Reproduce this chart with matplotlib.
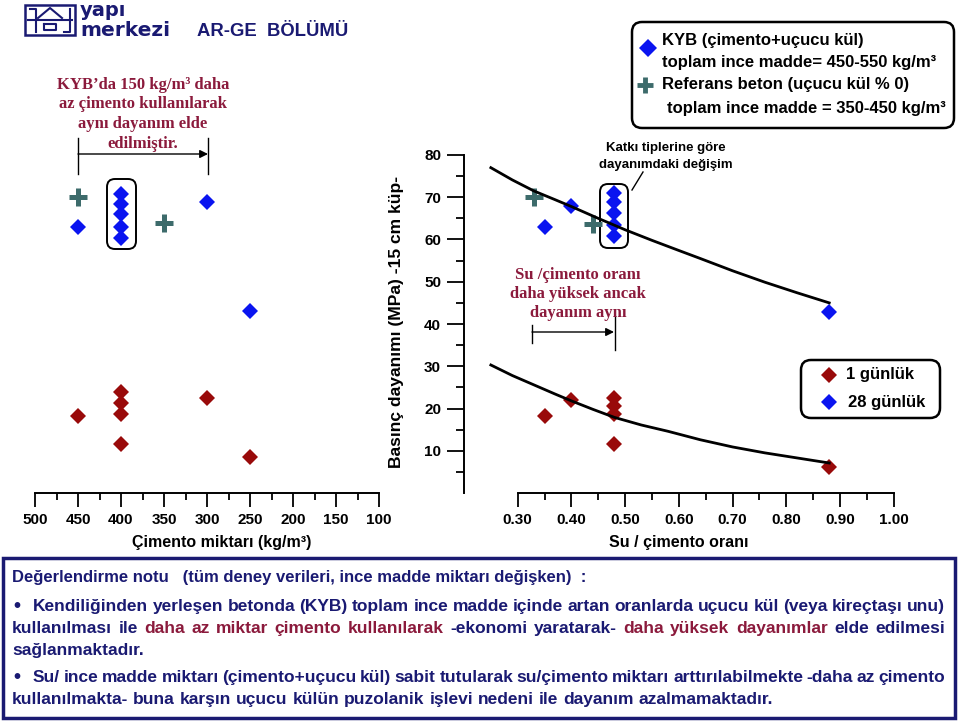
import matplotlib
matplotlib.use('Agg')
import matplotlib.pyplot as plt
from matplotlib.patches import FancyBboxPatch, Rectangle

plt.rcParams['font.family'] = ['Liberation Sans', 'DejaVu Sans']
plt.rcParams['font.weight'] = 'bold'

# --- data --------------------------------------------------------------
# left panel: strength vs cement content (kg/m3)
cem_28_x = [450, 400, 400, 400, 400, 400, 300, 250]
cem_28_y = [63.0, 70.7, 68.3, 66.0, 63.0, 60.3, 68.8, 43.0]
cem_1_x = [450, 400, 400, 400, 400, 300, 250]
cem_1_y = [18.2, 23.8, 21.3, 18.7, 11.6, 22.5, 8.5]
cem_ref_x = [450, 350]
cem_ref_y = [70.0, 63.8]

# right panel: strength vs water/cement ratio
wc_28_x = [0.35, 0.40, 0.48, 0.48, 0.48, 0.48, 0.48, 0.88]
wc_28_y = [63.0, 68.0, 71.0, 68.8, 66.2, 63.4, 60.8, 42.8]
wc_1_x = [0.35, 0.40, 0.48, 0.48, 0.48, 0.48, 0.88]
wc_1_y = [18.2, 22.0, 22.5, 20.6, 18.7, 11.6, 6.1]
wc_ref_x = [0.33, 0.44]
wc_ref_y = [70.0, 63.6]

# trend curves (read point by point)
trend_28_x = [0.25, 0.29, 0.33, 0.37, 0.40, 0.45, 0.50, 0.55, 0.60, 0.64, 0.70, 0.76, 0.82, 0.88]
trend_28_y = [77.0, 74.1, 71.5, 69.4, 67.8, 65.0, 62.3, 59.8, 57.4, 55.5, 52.6, 49.9, 47.4, 45.0]
trend_1_x = [0.25, 0.29, 0.33, 0.37, 0.40, 0.44, 0.48, 0.53, 0.58, 0.64, 0.70, 0.76, 0.82, 0.88]
trend_1_y = [30.3, 27.8, 25.6, 23.4, 21.8, 19.8, 17.9, 16.1, 14.6, 12.6, 10.9, 9.5, 8.3, 7.1]

cem_ticks = [500, 450, 400, 350, 300, 250, 200, 150, 100]
cem_minor = [475, 425, 375, 325, 275, 225, 175, 125]
wc_ticks = [0.30, 0.40, 0.50, 0.60, 0.70, 0.80, 0.90, 1.00]
wc_minor = [0.35, 0.45, 0.55, 0.65, 0.75, 0.85, 0.95]
y_ticks = [10, 20, 30, 40, 50, 60, 70, 80]
y_minor = [5, 15, 25, 35, 45, 55, 65, 75]

BLUE = '#0a14f0'
RED = '#990a0a'
TEAL = '#3d6b6b'
NAVY = '#1a1a72'
MAROON = '#8b1a3c'

W, H = 959, 721
fig = plt.figure(figsize=(W / 100, H / 100), dpi=100)

# overlay in pixel coordinates for annotations
ov = fig.add_axes([0, 0, 1, 1])
ov.set_xlim(0, W)
ov.set_ylim(H, 0)
ov.axis('off')


def px_rect(x0, x1, y_top, y_bot):
    return [x0 / W, 1 - y_bot / H, (x1 - x0) / W, (y_bot - y_top) / H]


ax_l = fig.add_axes(px_rect(35, 379, 155, 493), facecolor='none')
ax_r = fig.add_axes(px_rect(464, 955, 155, 493), facecolor='none')

dia = dict(ls='none', marker='D', ms=8.5, mew=0, zorder=3)
plus = dict(ls='none', marker='+', ms=13, mew=3.6, zorder=3)

ax_l.plot(cem_28_x, cem_28_y, color=BLUE, **dia)
ax_l.plot(cem_1_x, cem_1_y, color=RED, **dia)
ax_l.plot(cem_ref_x, cem_ref_y, color=TEAL, **plus)

ax_r.plot(wc_28_x, wc_28_y, color=BLUE, **dia)
ax_r.plot(wc_1_x, wc_1_y, color=RED, **dia)
ax_r.plot(wc_ref_x, wc_ref_y, color=TEAL, **plus)
ax_r.plot(trend_28_x, trend_28_y, color='black', lw=2.0, zorder=4)
ax_r.plot(trend_1_x, trend_1_y, color='black', lw=2.0, zorder=4)

# left axis styling
ax_l.set_xlim(500, 100)
ax_l.set_ylim(0, 80)
for s in ['top', 'right', 'left']:
    ax_l.spines[s].set_visible(False)
ax_l.spines['bottom'].set_linewidth(1.4)
ax_l.set_xticks(cem_ticks)
ax_l.set_xticks(cem_minor, minor=True)
ax_l.set_xticklabels([str(t) for t in cem_ticks])
ax_l.set_yticks([])
ax_l.tick_params(axis='x', which='major', length=10, width=1.3, pad=4.5, labelsize=11)
ax_l.tick_params(axis='x', which='minor', length=5, width=1.3)

# right axis styling
ax_r.set_xlim(0.2, 0.2 + 491 / 537.1)
ax_r.set_ylim(0, 80)
for s in ['top', 'right']:
    ax_r.spines[s].set_visible(False)
ax_r.spines['left'].set_bounds(0, 80)
ax_r.spines['bottom'].set_bounds(0.30, 1.00)
ax_r.spines['left'].set_linewidth(1.4)
ax_r.spines['bottom'].set_linewidth(1.4)
ax_r.set_xticks(wc_ticks)
ax_r.set_xticks(wc_minor, minor=True)
ax_r.set_xticklabels(['%.2f' % t for t in wc_ticks])
ax_r.set_yticks(y_ticks)
ax_r.set_yticks(y_minor, minor=True)
ax_r.tick_params(axis='x', which='major', length=10, width=1.3, pad=4.5, labelsize=11)
ax_r.tick_params(axis='x', which='minor', length=5, width=1.3)
ax_r.tick_params(axis='y', which='major', length=12.5, width=1.3, pad=4, labelsize=11)
ax_r.tick_params(axis='y', which='minor', length=6, width=1.3)

# axis titles
ov.text(396, 322, 'Basınç dayanımı (MPa) -15 cm küp-', rotation=90,
        ha='center', va='center', fontsize=12.6)
ov.text(222, 543, 'Çimento miktarı (kg/m³)', ha='center', va='center', fontsize=11.5)
ov.text(679, 543, 'Su / çimento oranı', ha='center', va='center', fontsize=11.5)

# header / logo
ov.add_patch(Rectangle((25, 5), 50, 30, fill=False, ec=NAVY, lw=1.8))
ov.plot([28, 72], [20, 20], color=NAVY, lw=1.5)
ov.plot([38, 50, 62], [18, 8, 18], color=NAVY, lw=1.5)
ov.plot([30, 36, 36], [9, 9, 32], color=NAVY, lw=1.5)
ov.plot([64, 70, 70], [32, 32, 9], color=NAVY, lw=1.5)
ov.plot([44, 56, 56, 44, 44], [24, 24, 30, 30, 24], color=NAVY, lw=1.5)
ov.text(80, 16, 'yapı', color=NAVY, fontsize=14, family='DejaVu Sans',
        fontweight='heavy', va='baseline', ha='left')
ov.text(80, 36.5, 'merkezi', color=NAVY, fontsize=14.5, family='DejaVu Sans',
        fontweight='heavy', va='baseline', ha='left')
ov.text(197, 31, 'AR-GE  BÖLÜMÜ', color=NAVY, fontsize=13.3, va='center', ha='left')

# top-left remark
serif = dict(family=['Liberation Serif', 'DejaVu Serif'], color=MAROON,
             fontsize=12, ha='center', va='center')
for yy, line in zip([85, 104, 124, 144],
                    ['KYB’da 150 kg/m³ daha', 'az çimento kullanılarak',
                     'aynı dayanım elde', 'edilmiştir.']):
    ov.text(143, yy, line, **serif)
ov.plot([78, 78], [138, 174], color='black', lw=1)
ov.plot([208, 208], [138, 174], color='black', lw=1)
ov.annotate('', xy=(208, 154), xytext=(78, 154),
            arrowprops=dict(arrowstyle='-|>', color='black', lw=1,
                            mutation_scale=12, shrinkA=0, shrinkB=0))

# right panel remark
for yy, line in zip([275, 294, 313],
                    ['Su /çimento oranı', 'daha yüksek ancak', 'dayanım aynı']):
    ov.text(578, yy, line, **serif)
ov.plot([532, 532], [325, 343], color='black', lw=1)
ov.plot([615, 615], [317, 350], color='black', lw=1)
ov.annotate('', xy=(614, 332), xytext=(532, 332),
            arrowprops=dict(arrowstyle='-|>', color='black', lw=1,
                            mutation_scale=12, shrinkA=0, shrinkB=0))

# boxes around stacked points
for (bx0, by0, bx1, by1) in [(107, 179, 136, 249), (600, 184, 628, 248)]:
    ov.add_patch(FancyBboxPatch((bx0, by0), bx1 - bx0, by1 - by0,
                                boxstyle='round,pad=0,rounding_size=8',
                                fill=False, ec='black', lw=1.4))
ov.text(666, 148, 'Katkı tiplerine göre', ha='center', va='center', fontsize=9.5)
ov.text(666, 165, 'dayanımdaki değişim', ha='center', va='center', fontsize=9.5)
ov.plot([632, 643], [190, 172], color='black', lw=1)

# legend top-right
ov.add_patch(FancyBboxPatch((632, 22), 322, 106, boxstyle='round,pad=0,rounding_size=10',
                            fill=False, ec='black', lw=1.8))
ov.plot([648], [48], ls='none', marker='D', ms=9, mew=0, color=BLUE)
ov.plot([645], [85], ls='none', marker='+', ms=11, mew=3.5, color=TEAL)
leg = dict(fontsize=12, ha='left', va='center', color='black')
ov.text(662, 40, 'KYB (çimento+uçucu kül)', **leg)
ov.text(662, 63, 'toplam ince madde= 450-550 kg/m³', **leg)
ov.text(662, 85, 'Referans beton (uçucu kül % 0)', **leg)
ov.text(667, 108, 'toplam ince madde = 350-450 kg/m³', **leg)

# legend bottom-right
ov.add_patch(FancyBboxPatch((801, 360), 139, 58, boxstyle='round,pad=0,rounding_size=10',
                            fill=False, ec='black', lw=1.8))
ov.plot([829], [375], ls='none', marker='D', ms=8.5, mew=0, color=RED)
ov.plot([829], [402], ls='none', marker='D', ms=8.5, mew=0, color=BLUE)
ov.text(846, 375, '1 günlük', **leg)
ov.text(848, 402, '28 günlük', **leg)

# evaluation note box
ov.add_patch(Rectangle((3, 558), 952, 160, fill=False, ec=NAVY, lw=2.5))

renderer = fig.canvas.get_renderer()
FS = 12.5


def text_w(s):
    t = ov.text(0, 0, s, fontsize=FS)
    w = t.get_window_extent(renderer).width
    t.remove()
    return w


space_w = text_w('a a') - text_w('aa')


def put_line(segments, x0, x1, y, justify):
    words = []
    for seg, col in segments:
        for w in seg.split():
            words.append((w, col))
    widths = [text_w(w) for w, _ in words]
    gap = (x1 - x0 - sum(widths)) / (len(words) - 1) if justify else space_w
    x = x0
    for (w, col), wd in zip(words, widths):
        ov.text(x, y, w, fontsize=FS, color=col, ha='left', va='baseline')
        x += wd + gap


ov.text(12, 582, 'Değerlendirme notu   (tüm deney verileri, ince madde miktarı değişken)  :',
        fontsize=12, color=NAVY, ha='left', va='baseline')
ov.text(17, 612, '•', fontsize=FS + 2, color=NAVY, ha='center', va='baseline')
put_line([('Kendiliğinden yerleşen betonda (KYB) toplam ince madde içinde artan '
           'oranlarda uçucu kül (veya kireçtaşı unu)', NAVY)], 33, 945, 611, True)
put_line([('kullanılması ile', NAVY), ('daha az miktar çimento kullanılarak', MAROON),
          ('-ekonomi yaratarak-', NAVY), ('daha yüksek dayanımlar', MAROON),
          ('elde edilmesi', NAVY)], 12, 945, 633, True)
put_line([('sağlanmaktadır.', NAVY)], 12, 945, 655, False)
ov.text(17, 683, '•', fontsize=FS + 2, color=NAVY, ha='center', va='baseline')
put_line([('Su/ ince madde miktarı (çimento+uçucu kül) sabit tutularak su/çimento '
           'miktarı arttırılabilmekte -daha az çimento', NAVY)], 33, 945, 682, True)
put_line([('kullanılmakta- buna karşın uçucu külün puzolanik işlevi nedeni ile '
           'dayanım azalmamaktadır.', NAVY)], 12, 945, 704, False)

fig.savefig('out.png', dpi=100, facecolor='white')
